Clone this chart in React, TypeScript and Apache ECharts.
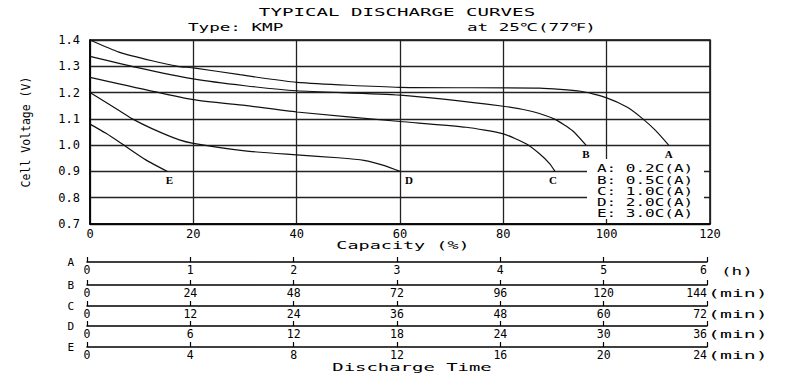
import React, { useEffect, useRef } from "react";
import * as echarts from "echarts";

// ---------- data ----------
const curveNames = ["A", "B", "C", "D", "E"];
const dischargeRates = ["0.2C(A)", "0.5C(A)", "1.0C(A)", "2.0C(A)", "3.0C(A)"];

const capA = [0, 5.6, 12, 17, 20, 29, 40, 60, 87, 95, 100, 104, 107, 109.5, 112];
const voltA = [1.4, 1.354, 1.321, 1.3, 1.294, 1.268, 1.239, 1.22, 1.217, 1.205, 1.18, 1.144, 1.1, 1.055, 1.0];

const capB = [0, 9, 20, 30, 40, 60, 80, 85.6, 90, 93.4, 96];
const voltB = [1.338, 1.296, 1.252, 1.226, 1.207, 1.19, 1.148, 1.128, 1.098, 1.055, 1.0];

const capC = [0, 20, 30, 40, 60, 72.8, 80, 84.4, 87, 89, 90];
const voltC = [1.258, 1.173, 1.151, 1.126, 1.09, 1.068, 1.043, 1.005, 0.967, 0.929, 0.9];

const capD = [0, 5.7, 8.2, 12.1, 17.3, 20, 30, 40, 48, 53, 57, 60];
const voltD = [1.2, 1.131, 1.1, 1.062, 1.02, 1.007, 0.978, 0.963, 0.952, 0.942, 0.922, 0.9];

const capE = [0, 3.1, 7, 10.8, 15];
const voltE = [1.08, 1.045, 0.994, 0.944, 0.9];

const capacityMin = 0;
const capacityMax = 120;
const capacityStep = 20;
const voltageMin = 0.7;
const voltageMax = 1.4;
const voltageStep = 0.1;

const timeAxisMax = [6, 144, 72, 36, 24];
const timeAxisStep = [1, 24, 12, 6, 4];
const timeAxisUnits = ["(h)", "(min)", "(min)", "(min)", "(min)"];

const titleText = "TYPICAL DISCHARGE CURVES";
const typeText = "Type: KMP";
const tempText = "at 25℃(77℉)";
const xName = "Capacity (%)";
const yName = "Cell Voltage (V)";
const timeName = "Discharge Time";

// ---------- styling / layout ----------
const MONO = "'DejaVu Sans Mono', 'Liberation Mono', monospace";
const SERIF = "'Liberation Serif', 'DejaVu Serif', serif";
const INK = "#111";
const timeLineY = [262, 285, 306, 326, 347];
const labelOffsets: Record<string, number[]> = { A: [0, 3], B: [0, 3], C: [-2, 3], D: [9, 3], E: [2, 3] };

const curves = [
  [capA, voltA],
  [capB, voltB],
  [capC, voltC],
  [capD, voltD],
  [capE, voltE],
];

function buildOption() {
  const grids: any[] = [
    { left: 90, right: 90, top: 40, height: 184, show: true, borderColor: "#000", borderWidth: 1.5, backgroundColor: "transparent" },
  ];
  const xAxes: any[] = [
    {
      gridIndex: 0,
      type: "value",
      min: capacityMin,
      max: capacityMax,
      interval: capacityStep,
      axisLine: { show: true, onZero: false, lineStyle: { color: "#000", width: 1.5 } },
      axisTick: { show: false },
      axisLabel: { margin: 4, fontSize: 12, fontFamily: MONO, color: "#000" },
      splitLine: { show: true, lineStyle: { color: "#222", width: 1.3 } },
    },
  ];
  const yAxes: any[] = [
    {
      gridIndex: 0,
      type: "value",
      min: voltageMin,
      max: voltageMax,
      interval: voltageStep,
      name: yName,
      nameLocation: "middle",
      nameRotate: 90,
      nameGap: 58,
      nameTextStyle: { fontSize: 11.5, fontFamily: MONO, color: "#000" },
      axisLine: { show: true, onZero: false, lineStyle: { color: "#000", width: 1.5 } },
      axisTick: { show: false },
      axisLabel: {
        margin: 10,
        fontSize: 12,
        fontFamily: MONO,
        color: "#000",
        formatter: (v: number) => v.toFixed(1),
      },
      splitLine: { show: true, lineStyle: { color: "#222", width: 1.3 } },
    },
  ];

  timeAxisMax.forEach((mx, i) => {
    grids.push({ left: 87, right: 93, top: timeLineY[i] - 10, height: 10, show: false });
    xAxes.push({
      gridIndex: i + 1,
      type: "value",
      position: "bottom",
      min: 0,
      max: mx,
      interval: timeAxisStep[i],
      name: curveNames[i],
      nameLocation: "start",
      nameGap: 13,
      nameTextStyle: { fontSize: 11, fontFamily: MONO, color: "#000", padding: [0, 0, 5, 0] },
      axisLine: { show: true, onZero: false, lineStyle: { color: "#000", width: 1.5 } },
      axisTick: { show: true, inside: true, length: 5, lineStyle: { color: "#000", width: 1.2 } },
      axisLabel: { margin: 2, fontSize: 11.5, fontFamily: MONO, color: "#000", alignMaxLabel: "right" },
      splitLine: { show: false },
    });
    yAxes.push({ gridIndex: i + 1, type: "value", min: 0, max: 1, show: false });
  });

  const series = curves.map(([caps, volts], si) => {
    const name = curveNames[si];
    const data = caps.map((c, k) => [c, volts[k]]);
    return {
      name,
      type: "line",
      xAxisIndex: 0,
      yAxisIndex: 0,
      data,
      smooth: 0.2,
      showSymbol: false,
      symbol: "none",
      lineStyle: { color: INK, width: 1.2 },
      endLabel: {
        show: true,
        formatter: name,
        distance: 0,
        align: "center",
        verticalAlign: "top",
        offset: labelOffsets[name],
        fontSize: 11,
        fontWeight: "bold",
        fontFamily: SERIF,
        color: "#000",
      },
      z: 3,
    };
  });

  const stretched = (text: string, x: number, y: number, sx: number, align: string, size = 11) => ({
    type: "text",
    x,
    y,
    scaleX: sx,
    z: 20,
    style: { text, fontSize: size, fontFamily: MONO, fill: "#000", align, verticalAlign: "middle" },
  });

  const graphics: any[] = [
    stretched(titleText, 397, 12, 1.74, "center"),
    stretched(typeText, 188, 27, 1.6, "left"),
    stretched(tempText, 467, 27, 1.6, "left"),
    stretched(xName, 403, 245, 1.68, "center"),
    stretched(timeName, 412, 367, 1.72, "center"),
    {
      type: "rect",
      z: 15,
      shape: { x: 587, y: 159, width: 117, height: 60 },
      style: { fill: "#fff" },
    },
  ];
  curveNames.forEach((n, i) => {
    graphics.push(stretched(`${n}: ${dischargeRates[i]}`, 597, 169 + i * 11.2, 1.6, "left", 10));
  });
  timeAxisUnits.forEach((u, i) => {
    graphics.push(stretched(u, i === 0 ? 721 : 708, timeLineY[i] + 8.5, i === 0 ? 1.6 : 1.8, "left"));
  });

  return {
    animation: false,
    backgroundColor: "#fff",
    grid: grids,
    xAxis: xAxes,
    yAxis: yAxes,
    series,
    graphic: graphics,
  };
}

export default function App() {
  const ref = useRef<HTMLDivElement>(null);
  useEffect(() => {
    if (!ref.current) return;
    const chart = echarts.init(ref.current, null, { renderer: "svg" });
    chart.setOption(buildOption() as any);
    return () => chart.dispose();
  }, []);
  return (
    <div
      ref={ref}
      style={{ position: "absolute", left: 0, top: 0, width: 800, height: 380, background: "#fff" }}
    />
  );
}
